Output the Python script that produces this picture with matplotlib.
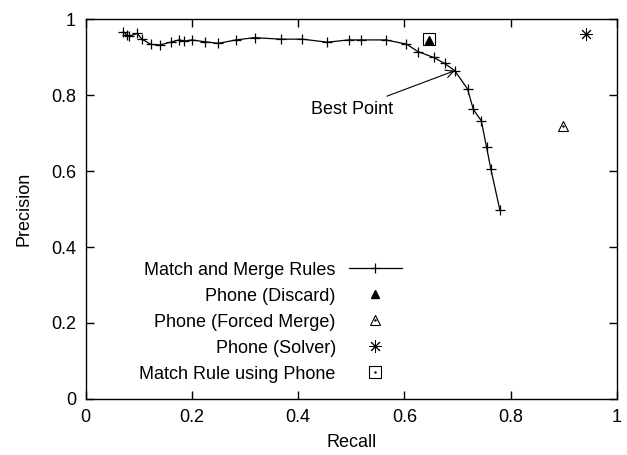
import matplotlib
matplotlib.use("Agg")
import matplotlib.pyplot as plt
from matplotlib.legend_handler import HandlerTuple

plt.rcParams['font.family'] = ['Liberation Sans', 'DejaVu Sans']
plt.rcParams['font.size'] = 13

# Match and Merge Rules curve (recall, precision)
rules_recall = [0.071, 0.077, 0.082, 0.097, 0.106, 0.123, 0.140, 0.160, 0.176,
                0.186, 0.200, 0.225, 0.250, 0.283, 0.318, 0.367, 0.408, 0.455,
                0.495, 0.519, 0.565, 0.604, 0.626, 0.655, 0.676, 0.695, 0.719,
                0.730, 0.745, 0.755, 0.763, 0.780]
rules_precision = [0.967, 0.958, 0.955, 0.962, 0.947, 0.933, 0.932, 0.939, 0.945,
                   0.942, 0.945, 0.940, 0.936, 0.945, 0.951, 0.947, 0.947, 0.939,
                   0.945, 0.945, 0.945, 0.934, 0.914, 0.899, 0.883, 0.864, 0.816,
                   0.762, 0.732, 0.662, 0.605, 0.497]

discard_recall = [0.646]
discard_precision = [0.945]
forced_recall = [0.898]
forced_precision = [0.718]
solver_recall = [0.942]
solver_precision = [0.960]
matchrule_recall = [0.646]
matchrule_precision = [0.947]

best_point = (0.695, 0.864)

fig = plt.figure(figsize=(6.27, 4.55), dpi=100)
ax = fig.add_axes([0.1367, 0.1231, 0.8469, 0.8351])

l_rules, = ax.plot(rules_recall, rules_precision, color='black', lw=0.9,
                   marker='+', ms=7, mew=0.9)
l_discard, = ax.plot(discard_recall, discard_precision, ls='none', marker='^',
                     color='black', ms=6)
l_forced, = ax.plot(forced_recall, forced_precision, ls='none', marker='^',
                    mfc='none', mec='black', ms=7.5, mew=0.8)
d_forced, = ax.plot(forced_recall, forced_precision, ls='none', marker='.',
                    color='black', ms=1.5)
l_solver, = ax.plot(solver_recall, solver_precision, ls='none', marker=(8, 2, 0),
                    color='black', ms=9, mew=0.7)
l_match, = ax.plot(matchrule_recall, matchrule_precision, ls='none', marker='s',
                   mfc='none', mec='black', ms=8, mew=0.8)

ax.annotate('Best Point', xy=best_point, xytext=(0.578, 0.762),
            ha='right', va='center',
            arrowprops=dict(arrowstyle='->', color='black', lw=0.8,
                            shrinkA=4, shrinkB=0, mutation_scale=14))

ax.set_xlim(0, 1)
ax.set_ylim(0, 1)
ax.set_xticks([0, 0.2, 0.4, 0.6, 0.8, 1])
ax.set_xticklabels(['0', '0.2', '0.4', '0.6', '0.8', '1'])
ax.set_yticks([0, 0.2, 0.4, 0.6, 0.8, 1])
ax.set_yticklabels(['0', '0.2', '0.4', '0.6', '0.8', '1'])
ax.tick_params(direction='in', top=True, right=True, length=6, width=1, pad=7)
for s in ax.spines.values():
    s.set_linewidth(1)
ax.set_xlabel('Recall', labelpad=6)
ax.set_ylabel('Precision', labelpad=13)

handles = [l_rules, l_discard, (l_forced, d_forced), l_solver, (l_match, d_forced)]
labels = ['Match and Merge Rules', 'Phone (Discard)', 'Phone (Forced Merge)',
          'Phone (Solver)', 'Match Rule using Phone']
ax.legend(handles, labels, loc='lower right', bbox_to_anchor=(0.612, 0.019),
          frameon=False, markerfirst=False, numpoints=1, handlelength=2.9,
          handletextpad=0.75, labelspacing=0.5, borderpad=0,
          handler_map={tuple: HandlerTuple(ndivide=1)})

fig.savefig('out.png', dpi=100)
